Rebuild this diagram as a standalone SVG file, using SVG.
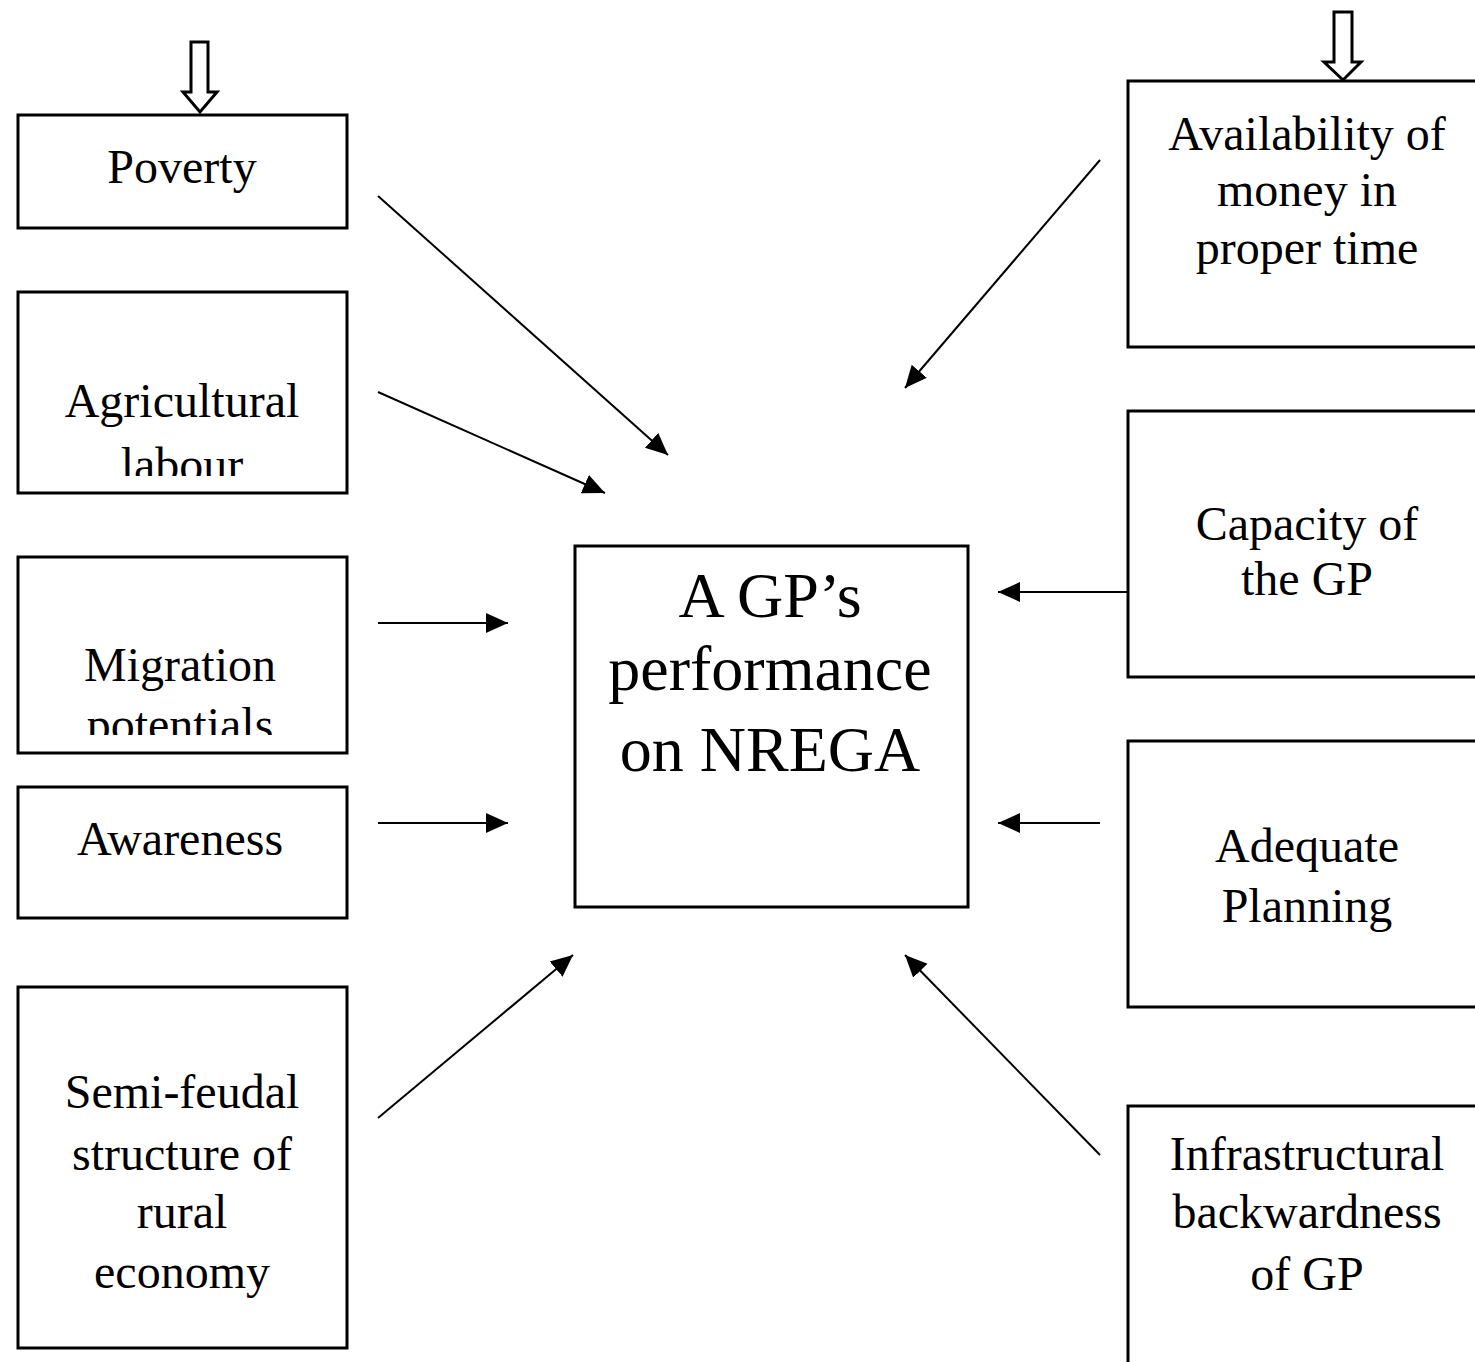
<svg xmlns="http://www.w3.org/2000/svg" width="1475" height="1362" viewBox="0 0 1475 1362">
<style>
.box{fill:#fff;stroke:#000;stroke-width:3}
.t{font-family:"Liberation Serif","Times New Roman",serif;font-size:48px;fill:#000;text-anchor:middle}
.tc{font-family:"Liberation Serif","Times New Roman",serif;font-size:64px;fill:#000;text-anchor:middle}
.c{stroke:#000;stroke-width:2;fill:none}
.h{fill:#fff;stroke:#000;stroke-width:3}
</style>
<defs>
<marker id="ah" markerUnits="userSpaceOnUse" markerWidth="26" markerHeight="22" refX="22" refY="11" orient="auto">
<path d="M0,1 L22,11 L0,21 Z" fill="#000"/>
</marker>
<clipPath id="clipAg"><rect x="20" y="294" width="326" height="182"/></clipPath>
<clipPath id="clipMi"><rect x="20" y="559" width="326" height="176"/></clipPath>
</defs>
<rect width="1475" height="1362" fill="#fff"/>

<g id="hollow-arrows">
<path class="h" d="M191,42 H208 V92 H217 L200,112 L183,92 H191 Z"/>
<path class="h" d="M1334,12 H1352 V62 H1361 L1343,80 L1324,62 H1334 Z"/>
</g>

<g id="poverty"><rect class="box" x="18" y="115" width="329" height="113"/><text class="t" x="182" y="183">Poverty</text></g>
<g id="agricultural"><rect class="box" x="18" y="292" width="329" height="201"/><g clip-path="url(#clipAg)"><text class="t" x="182" y="417">Agricultural</text><text class="t" x="182" y="481">labour</text></g></g>
<g id="migration"><rect class="box" x="18" y="557" width="329" height="196"/><g clip-path="url(#clipMi)"><text class="t" x="180" y="681">Migration</text><text class="t" x="180" y="741">potentials</text></g></g>
<g id="awareness"><rect class="box" x="18" y="787" width="329" height="131"/><text class="t" x="180" y="855">Awareness</text></g>
<g id="semifeudal"><rect class="box" x="18" y="987" width="329" height="361"/><text class="t" x="182" y="1108">Semi-feudal</text><text class="t" x="182" y="1170">structure of</text><text class="t" x="182" y="1228">rural</text><text class="t" x="182" y="1288">economy</text></g>

<g id="center"><rect class="box" x="575" y="546" width="393" height="361"/><text class="tc" x="770" y="617">A GP’s</text><text class="tc" x="770" y="690">performance</text><text class="tc" x="770" y="771">on NREGA</text></g>

<g id="availability"><rect class="box" x="1128" y="81" width="360" height="266"/><text class="t" x="1307" y="150">Availability of</text><text class="t" x="1307" y="206">money in</text><text class="t" x="1307" y="264">proper time</text></g>
<g id="capacity"><rect class="box" x="1128" y="411" width="360" height="266"/><text class="t" x="1307" y="540">Capacity of</text><text class="t" x="1307" y="595">the GP</text></g>
<g id="planning"><rect class="box" x="1128" y="741" width="360" height="266"/><text class="t" x="1307" y="862">Adequate</text><text class="t" x="1307" y="922">Planning</text></g>
<g id="infrastructural"><rect class="box" x="1128" y="1106" width="360" height="300"/><text class="t" x="1307" y="1170">Infrastructural</text><text class="t" x="1307" y="1228">backwardness</text><text class="t" x="1307" y="1290">of GP</text></g>

<g id="connectors">
<line class="c" x1="378" y1="196" x2="668" y2="455" marker-end="url(#ah)"/>
<line class="c" x1="378" y1="392" x2="605" y2="493" marker-end="url(#ah)"/>
<line class="c" x1="378" y1="623" x2="508" y2="623" marker-end="url(#ah)"/>
<line class="c" x1="378" y1="823" x2="508" y2="823" marker-end="url(#ah)"/>
<line class="c" x1="378" y1="1118" x2="573" y2="955" marker-end="url(#ah)"/>
<line class="c" x1="1100" y1="160" x2="905" y2="388" marker-end="url(#ah)"/>
<line class="c" x1="1128" y1="592" x2="998" y2="592" marker-end="url(#ah)"/>
<line class="c" x1="1100" y1="823" x2="998" y2="823" marker-end="url(#ah)"/>
<line class="c" x1="1100" y1="1155" x2="905" y2="955" marker-end="url(#ah)"/>
</g>
</svg>
